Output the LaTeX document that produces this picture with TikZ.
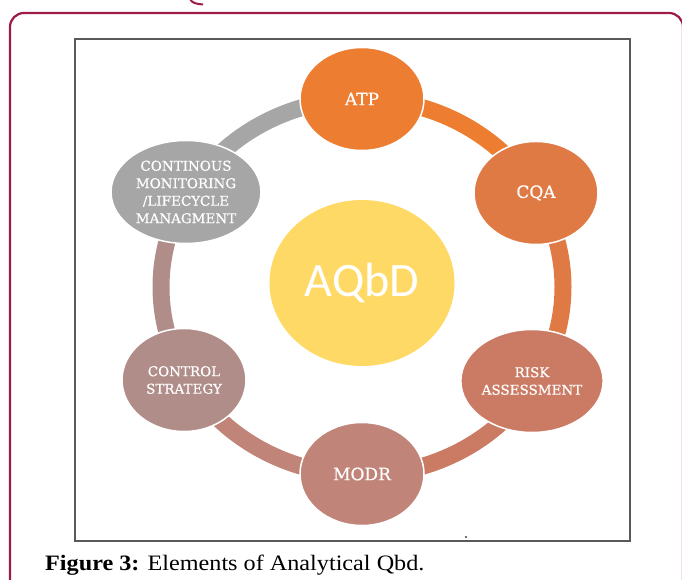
\documentclass[tikz,border=0pt]{standalone}
\usepackage{fontspec}
\setmainfont{Liberation Serif}
\newfontfamily\capfont[FakeStretch=1.1]{Liberation Serif}
\newfontfamily\nodefont[FakeBold=0.6]{DejaVu Serif}
\newfontfamily\centerfont{Carlito}
\usetikzlibrary{shapes.geometric}
\definecolor{frameC}{HTML}{9C1C47}
\definecolor{atpC}{HTML}{ED7D31}
\definecolor{cqaC}{HTML}{E07A45}
\definecolor{riskC}{HTML}{CB7B63}
\definecolor{modrC}{HTML}{C08478}
\definecolor{ctrlC}{HTML}{B08D89}
\definecolor{monC}{HTML}{A6A6A6}
\definecolor{aqbdC}{HTML}{FFD966}
\tikzset{
  elem/.style={ellipse, draw=white, line width=1.5pt, minimum width=124pt, minimum height=103pt,
    inner sep=0pt, text=white, align=center, font=\nodefont\fontsize{13.5}{17.5}\selectfont},
  bigtxt/.style={font=\nodefont\fontsize{17}{20}\selectfont},
  ring/.style={line width=17pt},
}
\begin{document}
\begin{tikzpicture}[x=1pt,y=1pt]
\useasboundingbox (0,0) rectangle (682,580);
\begin{scope}
\clip (0,0) rectangle (682,580);
\draw[frameC, line width=2.2pt, rounded corners=14pt] (10,-20) rectangle (683,567);
\draw[frameC, line width=2pt] (190,581) .. controls (192,577) and (196,576) .. (203,575.5);
\end{scope}
\draw[black!65, line width=1.2pt] (75,39) rectangle (630,541);
% ring
\coordinate (C) at (362,293);
\draw[ring, atpC] (C) ++(90:201 and 188) arc[start angle=90, end angle=30, x radius=201, y radius=188];
\draw[ring, cqaC] (C) ++(30:201 and 188) arc[start angle=30, end angle=-30, x radius=201, y radius=188];
\draw[ring, riskC] (C) ++(-30:201 and 188) arc[start angle=-30, end angle=-90, x radius=201, y radius=188];
\draw[ring, modrC] (C) ++(-90:201 and 188) arc[start angle=-90, end angle=-150, x radius=201, y radius=188];
\draw[ring, ctrlC] (C) ++(-150:201 and 188) arc[start angle=-150, end angle=-210, x radius=201, y radius=188];
\draw[ring, monC] (C) ++(150:201 and 188) arc[start angle=150, end angle=90, x radius=201, y radius=188];
% nodes
\node[elem, fill=atpC, bigtxt] (atp) at (362,481) {ATP};
\node[elem, fill=cqaC, bigtxt] (cqa) at (536,387) {CQA};
\node[elem, fill=riskC, minimum width=128pt] (risk) at (532,199) {RISK\\ASSESSMENT};
\node[elem, fill=modrC, bigtxt] (modr) at (362,106) {MODR};
\node[elem, fill=ctrlC] (ctrl) at (184,200) {CONTROL\\STRATEGY};
\node[elem, fill=monC, minimum width=150pt] (mon) at (186,388) {CONTINOUS\\MONITORING\\/LIFECYCLE\\MANAGMENT};
\node[ellipse, fill=aqbdC, minimum width=185pt, minimum height=166pt, text=white,
  font=\centerfont\fontsize{48}{50}\selectfont] (aqbd) at (362,297) {AQbD};
\fill[black!75] (466,43) circle (1.2pt);
\node[anchor=base west, inner sep=0pt, font=\capfont\fontsize{22}{24}\selectfont] (cap) at (45,9)
  {\textbf{Figure 3:} Elements of Analytical Qbd.};
\end{tikzpicture}
\end{document}
